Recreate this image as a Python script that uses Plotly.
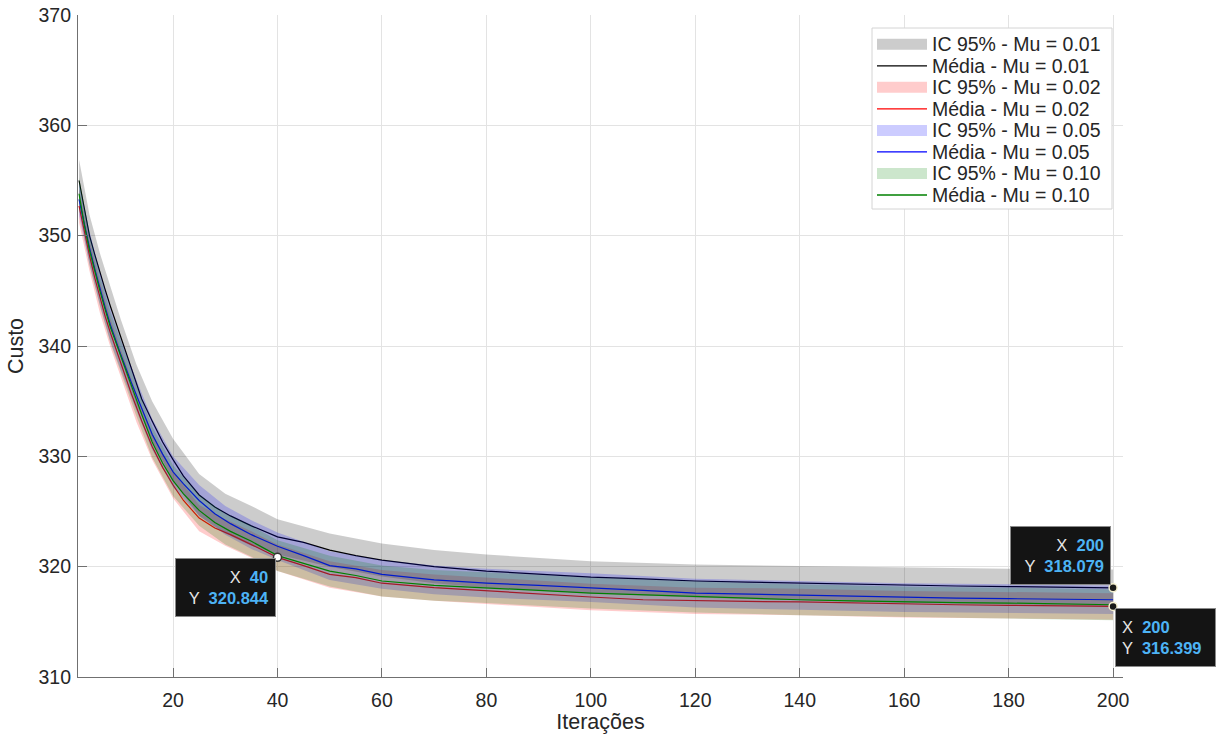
import plotly.graph_objects as go

# ---------------- data ----------------
iters = [2, 3, 4, 5, 6, 7, 8, 9, 10, 12, 14, 16, 18, 20, 22, 25, 28, 31, 35, 40,
         45, 50, 55, 60, 70, 80, 90, 100, 110, 120, 130, 140, 150, 160, 170, 180, 190, 200]

media_mu001 = [355.0, 352.4, 350.0, 348.3, 346.6, 345.1, 343.6, 342.2, 340.6, 337.8, 335.2, 333.2, 331.3,
               329.7, 328.2, 326.5, 325.4, 324.6, 323.7, 322.7, 322.2, 321.5, 321.0, 320.6, 320.0, 319.6,
               319.3, 319.05, 318.9, 318.7, 318.6, 318.5, 318.4, 318.3, 318.25, 318.2, 318.13, 318.079]
media_mu002 = [352.7, 350.4, 348.2, 346.2, 344.4, 342.7, 341.2, 339.8, 338.4, 335.7, 333.2, 330.9, 329.0,
               327.4, 326.0, 324.4, 323.5, 322.9, 322.0, 320.844, 320.1, 319.3, 319.0, 318.5, 318.1, 317.8,
               317.5, 317.25, 317.0, 316.9, 316.85, 316.8, 316.7, 316.6, 316.55, 316.5, 316.45, 316.399]
media_mu005 = [353.3, 351.0, 348.9, 347.0, 345.2, 343.5, 341.9, 340.5, 339.2, 336.7, 334.3, 332.0, 330.2,
               328.6, 327.5, 326.0, 324.8, 323.9, 322.9, 321.85, 321.0, 320.1, 319.8, 319.3, 318.8, 318.5,
               318.3, 318.1, 317.85, 317.6, 317.5, 317.4, 317.3, 317.2, 317.15, 317.1, 317.05, 317.0]
media_mu010 = [353.8, 351.0, 348.7, 346.8, 345.0, 343.3, 341.7, 340.4, 339.1, 336.3, 333.8, 331.3, 329.4,
               327.8, 326.6, 325.1, 324.0, 323.2, 322.3, 321.0, 320.3, 319.6, 319.2, 318.7, 318.3, 318.1,
               317.85, 317.6, 317.45, 317.25, 317.15, 317.0, 316.9, 316.8, 316.75, 316.7, 316.6, 316.55]

iters_ic = [2, 4, 6, 8, 10, 13, 16, 20, 25, 30, 35, 40, 50, 60, 70, 80, 100, 120, 140, 160, 180, 200]

ic_sup_mu001 = [356.9, 351.9, 348.4, 345.4, 342.4, 338.3, 335.0, 331.6, 328.4, 326.6, 325.5, 324.3, 323.0,
                322.1, 321.5, 321.1, 320.5, 320.2, 320.05, 319.9, 319.8, 319.75]
ic_inf_mu001 = [353.1, 348.1, 344.8, 341.8, 338.8, 334.7, 331.4, 327.8, 324.6, 323.0, 321.9, 321.1, 320.0,
                319.1, 318.5, 318.1, 317.6, 317.2, 316.95, 316.7, 316.6, 316.4]
ic_sup_mu002 = [354.2, 349.6, 345.8, 342.5, 339.7, 335.7, 332.1, 328.6, 325.6, 324.3, 323.2, 322.0, 320.5,
                319.7, 319.3, 319.0, 318.45, 318.1, 318.0, 317.8, 317.7, 317.6]
ic_inf_mu002 = [351.2, 346.8, 343.0, 339.9, 337.1, 333.1, 329.7, 326.2, 323.2, 321.9, 320.8, 319.6, 318.1,
                317.3, 316.9, 316.6, 316.05, 315.7, 315.6, 315.4, 315.3, 315.2]
ic_sup_mu005 = [354.8, 350.4, 346.7, 343.4, 340.6, 336.9, 333.4, 330.0, 327.4, 325.5, 324.2, 323.1, 321.4,
                320.6, 320.1, 319.8, 319.4, 318.9, 318.7, 318.5, 318.4, 318.3]
ic_inf_mu005 = [351.8, 347.4, 343.7, 340.4, 337.8, 334.1, 330.6, 327.2, 324.6, 322.9, 321.6, 320.6, 318.8,
                318.0, 317.5, 317.2, 316.8, 316.3, 316.1, 315.9, 315.8, 315.7]
ic_sup_mu010 = [355.3, 350.1, 346.4, 343.1, 340.5, 336.4, 332.7, 329.2, 326.5, 324.8, 323.7, 322.4, 321.0,
                320.1, 319.7, 319.5, 319.0, 318.65, 318.4, 318.2, 318.1, 317.95]
ic_inf_mu010 = [352.3, 347.3, 343.6, 340.3, 337.7, 333.6, 329.9, 326.4, 323.7, 322.0, 320.9, 319.6, 318.2,
                317.3, 316.9, 316.7, 316.2, 315.85, 315.6, 315.4, 315.3, 315.15]

mu_labels = ["0.01", "0.02", "0.05", "0.10"]

# data tips (x, y)
tips = [(40, 320.844), (200, 318.079), (200, 316.399)]

# ---------------- figure ----------------
FONT = "Liberation Sans, Arial, sans-serif"
W, H = 1217, 734
ML, MR, MT, MB = 78, 94, 15, 57
PW, PH = W - ML - MR, H - MT - MB

def px2paper(px, py):
    return (px - ML) / PW, (H - MB - py) / PH

fill_colors = ["rgba(0,0,0,0.2)", "rgba(255,0,0,0.2)", "rgba(0,0,255,0.2)", "rgba(0,128,0,0.2)"]
line_colors = ["#000000", "#FF0000", "#0000FF", "#008000"]
means = [media_mu001, media_mu002, media_mu005, media_mu010]
sups = [ic_sup_mu001, ic_sup_mu002, ic_sup_mu005, ic_sup_mu010]
infs = [ic_inf_mu001, ic_inf_mu002, ic_inf_mu005, ic_inf_mu010]

fig = go.Figure()
for lab, fc, lc, m, s, i in zip(mu_labels, fill_colors, line_colors, means, sups, infs):
    fig.add_trace(go.Scatter(
        x=iters_ic + iters_ic[::-1], y=s + i[::-1], fill="toself", fillcolor=fc,
        line=dict(width=0), mode="lines", name=f"IC 95% - Mu = {lab}", hoverinfo="skip",
        showlegend=False))
    fig.add_trace(go.Scatter(
        x=iters, y=m, mode="lines", line=dict(color=lc, width=1.2),
        name=f"Média - Mu = {lab}", showlegend=False))

# data tip markers
fig.add_trace(go.Scatter(
    x=[t[0] for t in tips], y=[t[1] for t in tips], mode="markers",
    marker=dict(size=8, color=["#ffffff", "#1a1a1a", "#1a1a1a"],
                line=dict(color=["#333333", "#f5f0d0", "#f5f0d0"], width=1.5)),
    showlegend=False, hoverinfo="skip", cliponaxis=False))

BLUE = "#4DB3F5"
def tip_text(x, y):
    return (f"<span style='color:#e6e6e6'>X</span>  <b><span style='color:{BLUE}'>{x}</span></b><br>"
            f"<span style='color:#e6e6e6'>Y</span>  <b><span style='color:{BLUE}'>{y:.3f}</span></b>")

tip_anchor = [("right", "top", -2, -1, "right"),
              ("right", "bottom", -2, 3, "right"),
              ("left", "top", 2, -2, "left")]
for (tx, ty), (xa, ya, xs, ys, al) in zip(tips, tip_anchor):
    fig.add_annotation(
        x=tx, y=ty, xref="x", yref="y", text=tip_text(tx, ty), showarrow=False,
        xanchor=xa, yanchor=ya, xshift=xs, yshift=ys, align=al,
        bgcolor="#141414", bordercolor="#8a8a8a", borderwidth=1, borderpad=6,
        font=dict(family=FONT, size=16.5, color="#ffffff"), width=87, height=45)

# ---------------- manual legend (MATLAB style) ----------------
leg_left, leg_right, leg_top, leg_bot = 872, 1112, 28, 209
x0, y0 = px2paper(leg_left, leg_bot)
x1, y1 = px2paper(leg_right, leg_top)
fig.add_shape(type="rect", xref="paper", yref="paper", x0=x0, y0=y0, x1=x1, y1=y1,
              fillcolor="white", line=dict(color="#d4d4d4", width=1), layer="above")
row0, row_step = 44.3, 21.53
entries = []
for lab, fc, lc in zip(mu_labels, fill_colors, line_colors):
    entries.append(("fill", fc, f"IC 95% - Mu = {lab}"))
    entries.append(("line", lc, f"Média - Mu = {lab}"))
for k, (kind, col, txt) in enumerate(entries):
    cy = row0 + k * row_step
    if kind == "fill":
        a0, b0 = px2paper(877, cy + 5.5)
        a1, b1 = px2paper(927, cy - 5.5)
        fig.add_shape(type="rect", xref="paper", yref="paper", x0=a0, y0=b0, x1=a1, y1=b1,
                      fillcolor=col, line=dict(width=0), layer="above")
    else:
        a0, b0 = px2paper(877, cy)
        a1, _ = px2paper(927, cy)
        fig.add_shape(type="line", xref="paper", yref="paper", x0=a0, y0=b0, x1=a1, y1=b0,
                      line=dict(color=col, width=1.3), layer="above")
    tx, ty = px2paper(930, cy)
    fig.add_annotation(x=tx, y=ty, xref="paper", yref="paper", text=txt, showarrow=False,
                       xanchor="left", yanchor="middle",
                       font=dict(family=FONT, size=19.5, color="#262626"))

axis_common = dict(
    showline=True, linecolor="#707070", linewidth=1.2, ticks="inside", ticklen=9,
    tickcolor="#707070", tickwidth=1.2, showgrid=True, gridcolor="#e3e3e3", gridwidth=1,
    zeroline=False, tickfont=dict(family=FONT, size=19.5, color="#262626"),
    mirror=False, automargin=False)

fig.update_layout(
    width=W, height=H,
    margin=dict(l=ML, r=MR, t=MT, b=MB),
    paper_bgcolor="white", plot_bgcolor="white",
    font=dict(family=FONT, size=16, color="#262626"),
    xaxis=dict(range=[1.8, 201.9], tickvals=[20, 40, 60, 80, 100, 120, 140, 160, 180, 200],
               ticklabelstandoff=5,
               title=dict(text="Iterações", font=dict(family=FONT, size=21.5, color="#262626"), standoff=6),
               **axis_common),
    yaxis=dict(range=[310, 370], tickvals=[310, 320, 330, 340, 350, 360, 370],
               ticklabelstandoff=2,
               title=dict(text="Custo", font=dict(family=FONT, size=21.5, color="#262626"), standoff=8),
               **axis_common),
    showlegend=False,
)

fig.write_html("out.html")
